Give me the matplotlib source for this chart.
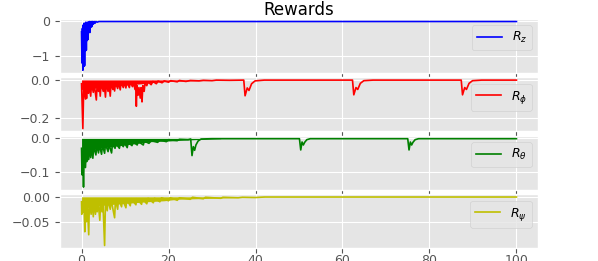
import matplotlib
matplotlib.use('Agg')
import matplotlib.pyplot as plt

plt.style.use('ggplot')

# R_z: fast decay in the first few seconds, then flat
rz_t = [0.0, 0.1, 0.2, 0.3, 0.4, 0.5, 0.6, 0.7, 0.8, 0.9, 1.0, 1.1, 1.2, 1.3, 1.4, 1.5,
        1.6, 1.7, 1.8, 1.9, 2.0, 2.1, 2.2, 2.35, 2.5, 2.7, 2.9, 3.1, 3.3, 3.6, 4.0, 100.0]
rz_v = [-0.3, -1.2, -0.2, -1.41, -0.1, -1.3, -0.05, -1.28, -0.1, -0.85, -0.02, -0.83,
        -0.05, -0.55, -0.02, -0.52, -0.03, -0.3, 0.0, -0.32, -0.01, -0.17, 0.0, -0.15,
        0.0, -0.08, 0.0, -0.05, 0.0, -0.02, 0.0, 0.0]

# R_phi
rphi_t = [0.0, 0.3, 0.5, 0.9, 1.0, 1.15, 1.3, 1.6, 1.8, 2.1,
          2.3, 2.7, 2.9, 3.4, 3.6, 3.9, 4.1, 4.3, 4.5, 5.0,
          5.2, 5.5, 5.7, 6.1, 6.3, 6.6, 6.8, 7.2, 7.4, 7.6,
          7.8, 8.3, 8.5, 8.9, 9.1, 9.6, 9.8, 10.2, 10.4, 11.0,
          11.2, 11.7, 11.9, 12.3, 12.45, 12.6, 12.75, 13.0, 13.2, 13.5,
          13.7, 13.9, 14.1, 14.4, 14.6, 15.0, 15.3, 16.0, 16.4, 17.2,
          17.6, 18.5, 19.0, 20.0, 20.5, 22.0, 22.5, 24.0, 25.0, 27.0,
          28.0, 30.0, 31.0, 34.0, 37.3, 37.6, 38.1, 38.5, 39.1, 39.9,
          42.0, 62.3, 62.6, 63.1, 63.5, 64.1, 64.9, 67.0, 87.3, 87.6,
          88.1, 88.5, 89.1, 89.9, 92.0, 100.0]
rphi_v = [-0.02, -0.255, -0.03, -0.1, -0.02, -0.097, -0.02, -0.07, -0.02, -0.085,
          -0.02, -0.065, -0.02, -0.105, -0.02, -0.06, -0.02, -0.085, -0.02, -0.06,
          -0.015, -0.09, -0.015, -0.06, -0.015, -0.085, -0.015, -0.05, -0.015, -0.058,
          -0.015, -0.045, -0.012, -0.052, -0.012, -0.04, -0.01, -0.042, -0.01, -0.04,
          -0.01, -0.035, -0.01, -0.05, -0.02, -0.138, -0.03, -0.08, -0.04, -0.095,
          -0.04, -0.115, -0.03, -0.06, -0.015, -0.03, -0.01, -0.025, -0.008, -0.02,
          -0.006, -0.015, -0.005, -0.012, -0.004, -0.01, -0.003, -0.008, -0.003, -0.005,
          -0.002, -0.004, -0.001, -0.002, -0.001, -0.083, -0.042, -0.055, -0.02, -0.005,
          -0.001, -0.001, -0.078, -0.04, -0.05, -0.018, -0.004, -0.001, -0.001, -0.078,
          -0.04, -0.05, -0.018, -0.004, -0.001, -0.001]
rphi_band_t = [0, 2, 5, 8, 11, 14, 17, 20, 25, 30, 36]
rphi_band_v = [-0.05, -0.045, -0.04, -0.032, -0.025, -0.02, -0.012, -0.008, -0.005, -0.003, -0.001]

# R_theta
rth_t = [0.0, 0.1, 0.25, 0.45, 0.6, 0.9, 1.05, 1.2, 1.4, 1.6,
         1.8, 2.1, 2.3, 2.6, 2.8, 3.3, 3.5, 3.9, 4.1, 4.6,
         4.8, 5.3, 5.5, 6.1, 6.3, 6.9, 7.1, 7.7, 7.9, 8.7,
         8.9, 9.6, 9.8, 10.5, 10.7, 11.6, 11.8, 12.8, 13.0, 14.2,
         14.4, 15.5, 16.0, 17.5, 18.0, 19.5, 20.0, 22.0, 22.5, 24.5,
         25.1, 25.4, 25.7, 26.0, 26.3, 26.8, 27.5, 30.0, 50.1, 50.4,
         50.7, 51.0, 51.3, 51.8, 52.6, 55.0, 75.0, 75.3, 75.6, 75.9,
         76.2, 76.7, 77.5, 80.0, 100.0]
rth_v = [-0.03, -0.11, -0.04, -0.147, -0.05, -0.088, -0.04, -0.07, -0.035, -0.064,
         -0.03, -0.058, -0.025, -0.06, -0.025, -0.05, -0.02, -0.044, -0.02, -0.048,
         -0.02, -0.045, -0.018, -0.04, -0.018, -0.044, -0.017, -0.03, -0.015, -0.03,
         -0.013, -0.025, -0.012, -0.028, -0.012, -0.022, -0.01, -0.02, -0.009, -0.02,
         -0.008, -0.015, -0.007, -0.012, -0.005, -0.01, -0.004, -0.007, -0.003, -0.004,
         -0.002, -0.052, -0.025, -0.036, -0.02, -0.008, -0.002, -0.001, -0.001, -0.035,
         -0.011, -0.02, -0.012, -0.004, -0.001, -0.001, -0.001, -0.035, -0.011, -0.02,
         -0.012, -0.004, -0.001, -0.001, -0.001]
rth_band_t = [0, 0.5, 1.5, 2.5, 4, 7, 10, 13, 16, 20, 24, 28, 32]
rth_band_v = [-0.07, -0.065, -0.045, -0.035, -0.03, -0.025, -0.02, -0.015, -0.01, -0.008, -0.005, -0.003, -0.001]

# R_psi
rpsi_t = [0.0, 0.05, 0.2, 0.4, 0.55, 0.75, 0.9, 1.15, 1.3, 1.65,
          1.8, 2.2, 2.4, 2.7, 2.9, 3.2, 3.4, 3.6, 3.8, 4.2,
          4.4, 4.7, 4.9, 5.3, 5.5, 5.9, 6.1, 6.6, 6.8, 7.6,
          7.8, 8.3, 8.5, 9.2, 9.4, 10.2, 10.4, 11.2, 11.4, 12.5,
          12.7, 13.8, 14.0, 15.0, 15.3, 16.5, 16.8, 18.0, 18.4, 20.0,
          20.4, 22.0, 22.5, 25.0, 25.5, 28.0, 28.5, 32.0, 32.5, 36.0,
          37.0, 40.0, 42.0, 100.0]
rpsi_v = [-0.01, -0.035, -0.01, -0.03, -0.01, -0.07, -0.01, -0.05, -0.01, -0.076,
          -0.01, -0.035, -0.008, -0.04, -0.008, -0.035, -0.008, -0.03, -0.008, -0.047,
          -0.007, -0.03, -0.007, -0.0975, -0.007, -0.028, -0.006, -0.025, -0.006, -0.042,
          -0.006, -0.025, -0.005, -0.02, -0.005, -0.022, -0.005, -0.018, -0.004, -0.016,
          -0.004, -0.015, -0.004, -0.014, -0.003, -0.012, -0.003, -0.01, -0.002, -0.008,
          -0.002, -0.007, -0.002, -0.005, -0.001, -0.004, -0.001, -0.003, -0.001, -0.002,
          -0.001, -0.0015, -0.0005, -0.0005]
rpsi_band_t = [0, 1, 3, 6, 9, 12, 15, 19, 22, 26, 30, 36, 42]
rpsi_band_v = [-0.025, -0.022, -0.019, -0.016, -0.014, -0.012, -0.01, -0.008, -0.005, -0.004, -0.003, -0.0015, -0.0005]

labels = [r'$R_z$', r'$R_\phi$', r'$R_\theta$', r'$R_\psi$']
colors = ['b', 'r', 'g', 'y']
yticks = [[-1, 0], [-0.2, 0.0], [-0.1, 0.0], [-0.05, 0.0]]

series = [(rz_t, rz_v, None, None),
          (rphi_t, rphi_v, rphi_band_t, rphi_band_v),
          (rth_t, rth_v, rth_band_t, rth_band_v),
          (rpsi_t, rpsi_v, rpsi_band_t, rpsi_band_v)]

fig, axes = plt.subplots(4, 1, sharex=True, figsize=(5.98, 2.61), dpi=100)
fig.subplots_adjust(left=0.1, right=0.9, top=0.927, bottom=0.05, hspace=0.09)

for ax, (t, v, bt, bv), lab, c, yt in zip(axes, series, labels, colors, yticks):
    if bt is not None:
        ax.fill_between(bt, bv, 0, color=c, lw=0)
    ax.plot(t, v, color=c, lw=1.2, label=lab)
    ax.set_yticks(yt)
    ax.tick_params(labelsize=9)
    ax.legend(loc='upper right', fontsize=9)

axes[0].set_title('Rewards', fontsize=12, pad=2)
axes[-1].set_xticks([0, 20, 40, 60, 80, 100])
axes[-1].tick_params(axis='x', pad=1)

fig.savefig('out.png', dpi=100)
